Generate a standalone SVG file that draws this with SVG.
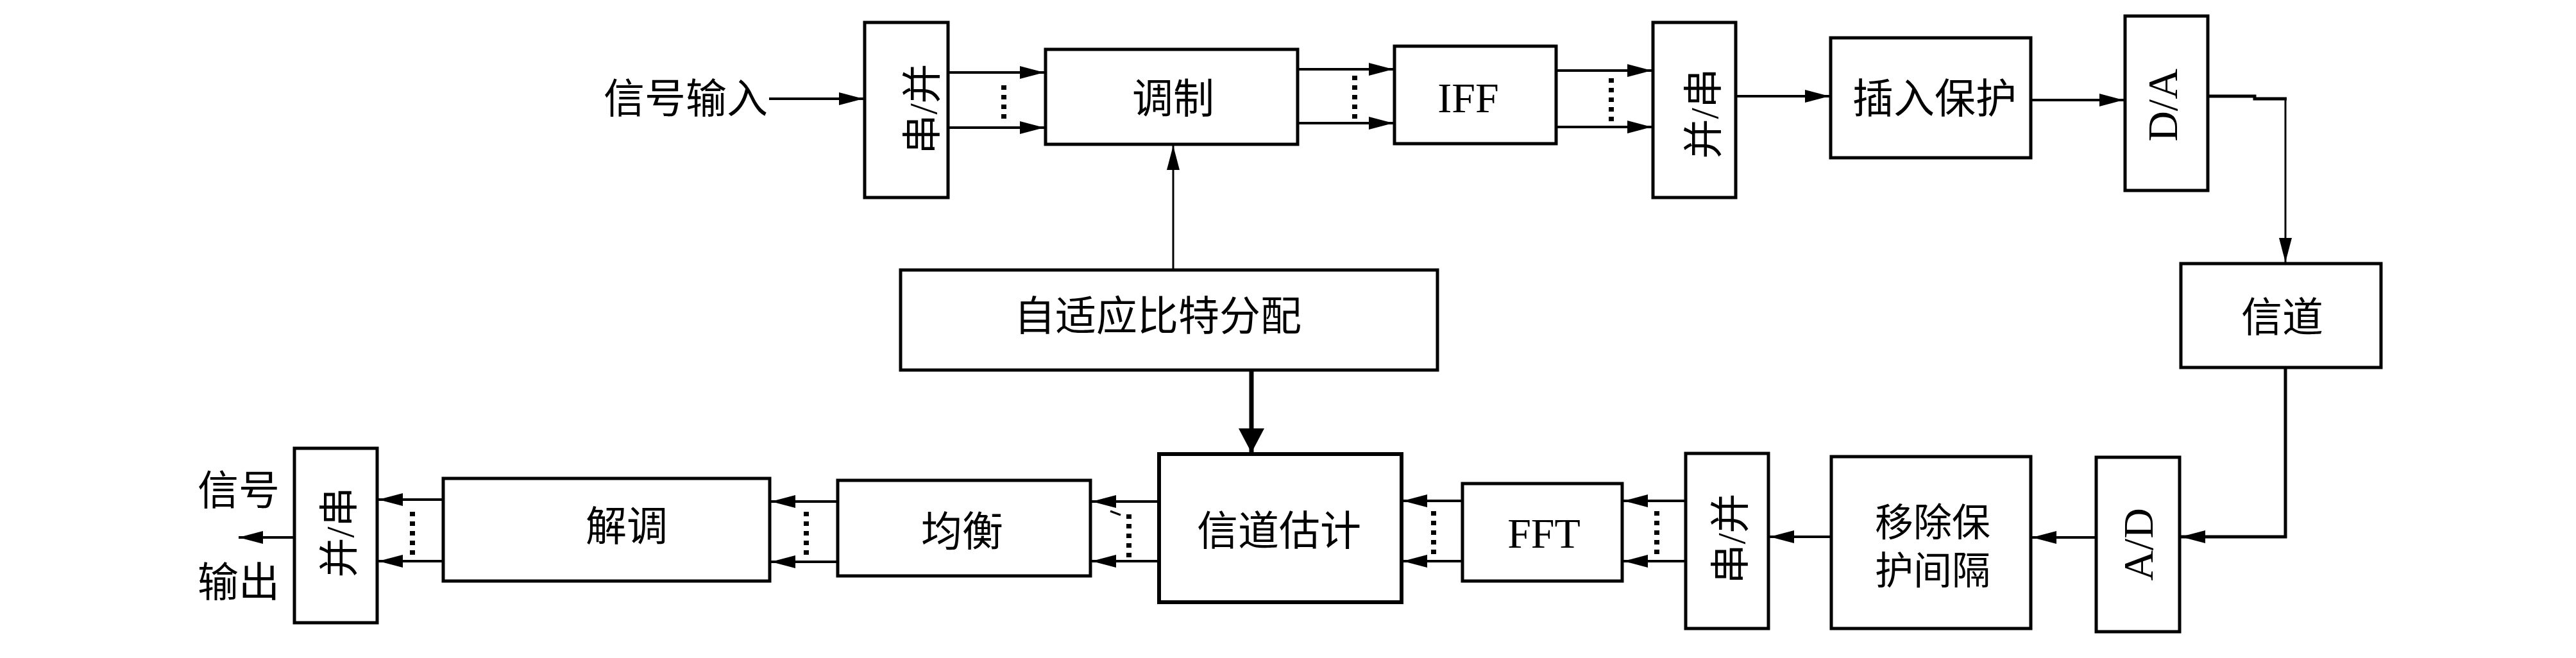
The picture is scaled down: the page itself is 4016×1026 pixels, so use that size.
<svg xmlns="http://www.w3.org/2000/svg" width="4016" height="1026" viewBox="0 0 4016 1026">
<style>
.box{fill:#fff;stroke:#000;stroke-width:5}
.thick{stroke-width:6}
.ln{fill:none;stroke:#000;stroke-width:4}
.thin{fill:none;stroke:#000;stroke-width:3}
.bold{fill:none;stroke:#000;stroke-width:7}
.dots{fill:none;stroke:#000;stroke-width:8;stroke-dasharray:7 8}
.cjk{font-family:"Noto Sans CJK SC",sans-serif;font-size:64px;fill:#000;text-anchor:middle}
.lat{font-family:"Liberation Serif",serif;font-size:66px;fill:#000;text-anchor:middle}
.mix{font-family:"Liberation Serif","Noto Sans CJK SC",serif;font-size:62px;fill:#000;text-anchor:middle}
.two{font-family:"Liberation Serif","Noto Sans CJK SC",serif;font-size:60px;fill:#000;text-anchor:middle}
</style>
<defs>
<marker id="a" markerUnits="userSpaceOnUse" markerWidth="38" markerHeight="20" refX="38" refY="10" orient="auto"><path d="M0,0L38,10L0,20z" fill="#000"/></marker>
<marker id="ab" markerUnits="userSpaceOnUse" markerWidth="38" markerHeight="40" refX="38" refY="20" orient="auto"><path d="M0,0L38,20L0,40z" fill="#000"/></marker>
</defs>
<rect width="4016" height="1026" fill="#fff"/>

<g id="signal-in"><text class="cjk" x="1069" y="176">信号输入</text></g>
<g id="sp1"><rect class="box" x="1348" y="35" width="130" height="273"/><text class="mix" transform="translate(1437,170) rotate(-90)" x="0" y="23">串/并</text></g>
<g id="mod"><rect class="box" x="1630" y="77" width="393" height="148"/><text class="cjk" x="1829" y="176">调制</text></g>
<g id="iff"><rect class="box" x="2174" y="72" width="252" height="152"/><text class="lat" x="2289" y="175">IFF</text></g>
<g id="ps1"><rect class="box" x="2577" y="35" width="129" height="273"/><text class="mix" transform="translate(2655,177) rotate(-90)" x="0" y="23">并/串</text></g>
<g id="guard-ins"><rect class="box" x="2854" y="59" width="312" height="187"/><text class="cjk" x="3016" y="176">插入保护</text></g>
<g id="da"><rect class="box" x="3313" y="25" width="129" height="272"/><text class="lat" transform="translate(3372,164) rotate(-90)" x="0" y="22">D/A</text></g>
<g id="channel"><rect class="box" x="3400" y="411" width="312" height="162"/><text class="cjk" x="3558" y="517">信道</text></g>
<g id="ad"><rect class="box" x="3268" y="713" width="130" height="272"/><text class="lat" transform="translate(3334,849) rotate(-90)" x="0" y="22">A/D</text></g>
<g id="guard-rm"><rect class="box" x="2855" y="712" width="311" height="268"/><text class="two" x="3013" y="836">移除保</text><text class="two" x="3013" y="911">护间隔</text></g>
<g id="sp2"><rect class="box" x="2628" y="707" width="129" height="273"/><text class="mix" transform="translate(2697,840) rotate(-90)" x="0" y="23">串/并</text></g>
<g id="fft"><rect class="box" x="2280" y="754" width="249" height="152"/><text class="lat" x="2407" y="854">FFT</text></g>
<g id="chest"><rect class="box thick" x="1807" y="708" width="378" height="231"/><text class="cjk" x="1994" y="850">信道估计</text></g>
<g id="eq"><rect class="box" x="1306" y="749" width="394" height="149"/><text class="cjk" x="1500" y="851">均衡</text></g>
<g id="demod"><rect class="box" x="691" y="746" width="509" height="160"/><text class="cjk" x="977" y="843">解调</text></g>
<g id="ps2"><rect class="box" x="459" y="699" width="129" height="272"/><text class="mix" transform="translate(528,830) rotate(-90)" x="0" y="23">并/串</text></g>
<g id="bitalloc"><rect class="box" x="1404" y="421" width="837" height="156"/><text class="cjk" x="1805" y="515">自适应比特分配</text></g>
<g id="signal-out"><text class="cjk" x="372" y="787">信号</text><text class="cjk" x="372" y="930">输出</text></g>

<g id="connectors">
<path class="ln" d="M1199,154H1346" marker-end="url(#a)"/>
<path class="ln" d="M1480,113H1628" marker-end="url(#a)"/>
<path class="ln" d="M1480,199H1628" marker-end="url(#a)"/>
<path class="dots" d="M1565,133V190"/>
<path class="ln" d="M2025,108H2172" marker-end="url(#a)"/>
<path class="ln" d="M2025,192H2172" marker-end="url(#a)"/>
<path class="dots" d="M2112,118V186"/>
<path class="ln" d="M2428,110H2575" marker-end="url(#a)"/>
<path class="ln" d="M2428,198H2575" marker-end="url(#a)"/>
<path class="dots" d="M2512,122V190"/>
<path class="ln" d="M2708,150H2852" marker-end="url(#a)"/>
<path class="ln" d="M3168,156H3311" marker-end="url(#a)"/>
<path class="ln" d="M3444,150H3515V154H3565" style="stroke-width:5"/>
<path class="thin" d="M3563,152V409" marker-end="url(#a)"/>
<path class="ln" d="M3563,575V837H3400" style="stroke-width:5" marker-end="url(#a)"/>
<path class="ln" d="M3266,838H3168" marker-end="url(#a)"/>
<path class="ln" d="M2853,837H2759" marker-end="url(#a)"/>
<path class="ln" d="M2626,781H2531" marker-end="url(#a)"/>
<path class="ln" d="M2626,875H2531" marker-end="url(#a)"/>
<path class="dots" d="M2583,797V870"/>
<path class="ln" d="M2278,781H2187" marker-end="url(#a)"/>
<path class="ln" d="M2278,875H2187" marker-end="url(#a)"/>
<path class="dots" d="M2235,797V870"/>
<path class="ln" d="M1805,782H1702" marker-end="url(#a)"/>
<path class="ln" d="M1805,875H1702" marker-end="url(#a)"/>
<path class="dots" d="M1760,802V870"/>
<path class="thin" d="M1731,797L1747,803"/>
<path class="ln" d="M1304,782H1202" marker-end="url(#a)"/>
<path class="ln" d="M1304,876H1202" marker-end="url(#a)"/>
<path class="dots" d="M1257,798V870"/>
<path class="ln" d="M689,779H590" marker-end="url(#a)"/>
<path class="ln" d="M689,875H590" marker-end="url(#a)"/>
<path class="dots" d="M643,798V870"/>
<path class="ln" d="M457,838H372" marker-end="url(#a)"/>
<path class="thin" d="M1829,421V227" marker-end="url(#a)"/>
<path class="bold" d="M1951,579V706" marker-end="url(#ab)"/>
</g>
</svg>
